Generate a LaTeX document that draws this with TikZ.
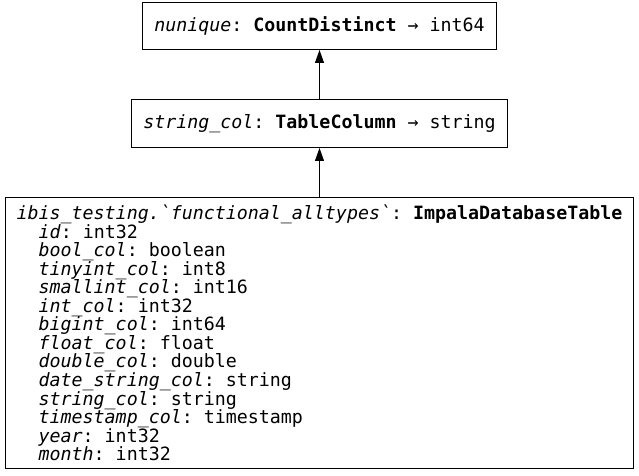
\documentclass[tikz,border=0pt]{standalone}
\usepackage{fontspec}
\setmonofont{DejaVu Sans Mono}
\usepackage{tikz}
\usetikzlibrary{arrows.meta,positioning,calc}
\tikzset{
  exprbox/.style={draw=black, line width=0.75pt, align=center, font=\ttfamily\fontsize{13.72}{13.9}\selectfont, minimum width=265.5pt, minimum height=35.5pt, inner sep=0pt},
  tablebox/.style={draw=black, line width=0.75pt, align=left, font=\ttfamily\fontsize{13.72}{13.9}\selectfont, minimum width=471pt, minimum height=203.25pt, inner sep=0pt},
  arrow/.style={-{Triangle[length=9.75pt, width=6.75pt]}, line width=0.75pt, draw=black}
}
\begin{document}
\begin{tikzpicture}[node distance=36.75pt]
  \node[tablebox] (table) {\textit{ibis\_testing.\textasciigrave functional\_alltypes\textasciigrave}: \textbf{ImpalaDatabaseTable}\\
  \ \ \textit{id}: int32\\
  \ \ \textit{bool\_col}: boolean\\
  \ \ \textit{tinyint\_col}: int8\\
  \ \ \textit{smallint\_col}: int16\\
  \ \ \textit{int\_col}: int32\\
  \ \ \textit{bigint\_col}: int64\\
  \ \ \textit{float\_col}: float\\
  \ \ \textit{double\_col}: double\\
  \ \ \textit{date\_string\_col}: string\\
  \ \ \textit{string\_col}: string\\
  \ \ \textit{timestamp\_col}: timestamp\\
  \ \ \textit{year}: int32\\
  \ \ \textit{month}: int32};
  \node[exprbox, minimum width=282pt, minimum height=36pt, above=of table] (column) {\textit{string\_col}: \textbf{TableColumn} → string};
  \node[exprbox, above=of column] (nunique) {\textit{nunique}: \textbf{CountDistinct} → int64};

  \draw[arrow] (table) -- (column);
  \draw[arrow] (column) -- (nunique);

  \useasboundingbox ($(table.south west)+(-3.75pt,-4.5pt)$) rectangle ++(479.25pt,356.25pt);
\end{tikzpicture}
\end{document}
